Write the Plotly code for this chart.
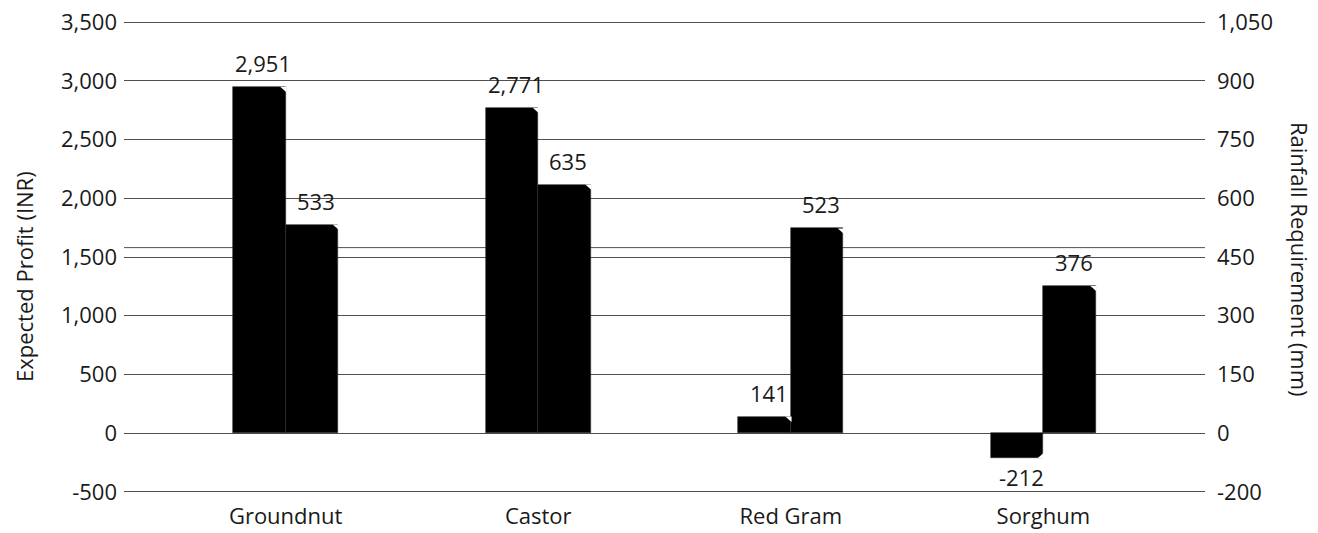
import plotly.graph_objects as go

# Crop economics: expected profit vs. rainfall requirement
crops = ["Groundnut", "Castor", "Red Gram", "Sorghum"]
profit_inr = [2951, 2771, 141, -212]
rainfall_mm = [533, 635, 523, 376]

# Axis ticks
left_ticks = [-500, 0, 500, 1000, 1500, 2000, 2500, 3000, 3500]
left_tick_text = ["-500", "0", "500", "1,000", "1,500", "2,000", "2,500", "3,000", "3,500"]
right_ticks = [-150, 0, 150, 300, 450, 600, 750, 900, 1050]
right_tick_text = ["-200", "0", "150", "300", "450", "600", "750", "900", "1,050"]

FONT = "Open Sans"
FS = 22
TXT = "#1a1a1a"
BAR_W = 0.208
GRID = "#505050"

# plot area geometry (px); ranges padded slightly so the edge gridlines render
W, H = 1318, 533
PAD = 10                      # left-axis units of padding at each end
PX_PER_UNIT = 469.4 / 4000
PH = 469.4 + 2 * PAD * PX_PER_UNIT
MT = 22.3 - PAD * PX_PER_UNIT
MB = H - MT - PH
ML, MR = 124, 113
PW = W - ML - MR
X_RANGE = [-0.64, 3.64]
PX_PER_CAT = PW / (X_RANGE[1] - X_RANGE[0])
Y_RANGE = [-500 - PAD, 3500 + PAD]
Y2_RANGE = [-150 - PAD * 0.3, 1050 + PAD * 0.3]

fig = go.Figure()

fig.add_trace(go.Bar(
    x=crops, y=profit_inr, name="Expected Profit (INR)",
    width=BAR_W, offset=-BAR_W,
    marker=dict(color="black", line=dict(color="#2a2a2a", width=0.6)),
    yaxis="y",
))
fig.add_trace(go.Bar(
    x=crops, y=rainfall_mm, name="Rainfall Requirement (mm)",
    width=BAR_W, offset=0,
    marker=dict(color="black", line=dict(color="#2a2a2a", width=0.6)),
    yaxis="y2",
))

# bevelled outer corner on each bar
cut_x = 5.5 / PX_PER_CAT
for i, (p, r) in enumerate(zip(profit_inr, rainfall_mm)):
    for val, yref, span, x_right in ((p, "y", Y_RANGE[1] - Y_RANGE[0], i),
                                     (r, "y2", Y2_RANGE[1] - Y2_RANGE[0], i + BAR_W)):
        cut_y = 5.5 / PH * span * (1 if val >= 0 else -1)
        fig.add_shape(
            type="path", xref="x", yref=yref, layer="above",
            path=f"M {x_right - cut_x} {val} L {x_right + 0.003} {val} "
                 f"L {x_right + 0.003} {val - cut_y} Z",
            fillcolor="white", line=dict(width=0),
        )

# Extra horizontal rule just above the 1,500 line
fig.add_shape(type="line", xref="paper", yref="y", x0=0, x1=1, y0=1580, y1=1580,
              line=dict(color=GRID, width=1), layer="below")

annotations = []
# value labels above / below bars
for i, (p, r) in enumerate(zip(profit_inr, rainfall_mm)):
    for val, yref, xs in ((p, "y", -PX_PER_CAT * BAR_W / 2 + 4),
                          (r, "y2", PX_PER_CAT * BAR_W / 2 + 4)):
        annotations.append(dict(
            x=i, y=val, xref="x", yref=yref, text=f"{val:,}",
            showarrow=False, xshift=xs, yshift=7 if val >= 0 else -2,
            xanchor="center", yanchor="bottom" if val >= 0 else "top",
            font=dict(family=FONT, size=FS, color=TXT),
        ))

# axis titles
annotations.append(dict(
    text="Expected Profit (INR)", textangle=-90, xref="paper", yref="paper",
    x=(24 - ML) / PW, y=(MT + PH - 277) / PH,
    xanchor="center", yanchor="middle", showarrow=False,
    font=dict(family=FONT, size=FS, color=TXT)))
annotations.append(dict(
    text="Rainfall Requirement (mm)", textangle=90, xref="paper", yref="paper",
    x=(1300 - ML) / PW, y=(MT + PH - 259) / PH,
    xanchor="center", yanchor="middle", showarrow=False,
    font=dict(family=FONT, size=FS, color=TXT)))

fig.update_layout(
    width=W, height=H,
    margin=dict(l=ML, r=MR, t=MT, b=MB),
    paper_bgcolor="white", plot_bgcolor="white",
    showlegend=False, bargap=0,
    font=dict(family=FONT, size=FS, color=TXT),
    xaxis=dict(
        type="category", range=X_RANGE, automargin=False,
        showgrid=False, zeroline=False, showline=False,
        ticks="", ticklabelstandoff=8,
        tickfont=dict(family=FONT, size=FS, color=TXT),
    ),
    yaxis=dict(
        range=Y_RANGE, tickvals=left_ticks, ticktext=left_tick_text,
        automargin=False,
        showgrid=True, gridcolor=GRID, gridwidth=1,
        zeroline=True, zerolinecolor=GRID, zerolinewidth=1,
        showline=False, ticks="", ticklabelstandoff=6,
        tickfont=dict(family=FONT, size=FS, color=TXT),
    ),
    yaxis2=dict(
        overlaying="y", side="right", automargin=False,
        range=Y2_RANGE, tickvals=right_ticks, ticktext=right_tick_text,
        showgrid=False, zeroline=False, showline=False,
        ticks="", ticklabelstandoff=11,
        tickfont=dict(family=FONT, size=FS, color=TXT),
    ),
    annotations=annotations,
)

fig.write_html("out.html")
